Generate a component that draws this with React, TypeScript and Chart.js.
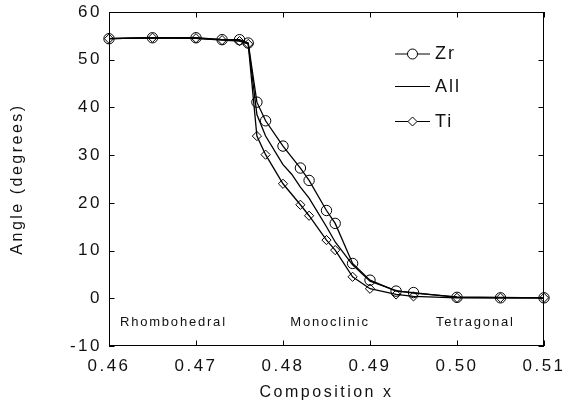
import React, { useEffect, useRef } from "react";
import { Chart, registerables } from "chart.js";

Chart.register(...registerables);

// ---- data ----
const compX = [0.46, 0.465, 0.47, 0.473, 0.475, 0.476, 0.477, 0.478, 0.48, 0.482, 0.483, 0.485, 0.486, 0.488, 0.49, 0.493, 0.495, 0.5, 0.505, 0.51];
const zrAngle = [54.4, 54.6, 54.6, 54.2, 54.2, 53.5, 41.1, 37.2, 31.9, 27.3, 24.7, 18.4, 15.7, 7.3, 3.8, 1.5, 1.2, 0.2, 0.1, 0.1];
const tiAngle = [54.4, 54.6, 54.5, 54.1, 53.9, 53.3, 34.0, 30.1, 24.0, 19.6, 17.3, 12.2, 10.1, 4.5, 2.0, 0.8, 0.4, 0.1, 0.1, 0.1];
const allX = [0.46, 0.465, 0.47, 0.473, 0.475, 0.476, 0.477, 0.478, 0.48, 0.481, 0.482, 0.483, 0.485, 0.486, 0.488, 0.49, 0.493, 0.495, 0.5, 0.505, 0.51];
const allAngle = [54.4, 54.6, 54.5, 54.2, 54.0, 53.4, 38.5, 34.0, 28.0, 26.0, 23.3, 21.0, 15.0, 11.8, 7.0, 3.6, 1.6, 1.1, 0.3, 0.2, 0.1];

const xTicks = [0.46, 0.47, 0.48, 0.49, 0.5, 0.51];
const yTicks = [-10, 0, 10, 20, 30, 40, 50, 60];

const phaseLabels = ["Rhombohedral", "Monoclinic", "Tetragonal"];
const phaseX = [0.4674, 0.4854, 0.5021];
const phaseY = -5;

const seriesNames = ["Zr", "All", "Ti"];

const FONT = "'Liberation Sans', Arial, Helvetica, sans-serif";
const INK = "#111";

const spacingPlugin = {
  id: "spacing",
  beforeLayout(chart: any) {
    chart.ctx.letterSpacing = "2.5px";
  },
  beforeDraw(chart: any) {
    chart.ctx.letterSpacing = "2.5px";
  },
};

const framePlugin = {
  id: "frame",
  beforeDatasetsDraw(chart: any) {
    const { ctx, chartArea: a, scales } = chart;
    const L = 5.5;
    ctx.save();
    ctx.strokeStyle = "#000";
    ctx.lineWidth = 1;
    ctx.strokeRect(a.left + 0.5, a.top + 0.5, a.right - a.left - 1, a.bottom - a.top - 1);
    ctx.beginPath();
    scales.x.ticks.forEach((t: any) => {
      const px = Math.round(scales.x.getPixelForValue(t.value)) + 0.5;
      ctx.moveTo(px, a.bottom);
      ctx.lineTo(px, a.bottom - L);
      ctx.moveTo(px, a.top);
      ctx.lineTo(px, a.top + L);
    });
    scales.y.ticks.forEach((t: any) => {
      const py = Math.round(scales.y.getPixelForValue(t.value)) + 0.5;
      ctx.moveTo(a.left, py);
      ctx.lineTo(a.left + L, py);
      ctx.moveTo(a.right, py);
      ctx.lineTo(a.right - L, py);
    });
    ctx.stroke();
    ctx.restore();
  },
};

const annotationPlugin = {
  id: "phases",
  afterDatasetsDraw(chart: any) {
    const { ctx, scales } = chart;
    ctx.save();
    ctx.letterSpacing = "1.8px";
    ctx.font = `13px ${FONT}`;
    ctx.fillStyle = INK;
    ctx.textAlign = "center";
    ctx.textBaseline = "middle";
    phaseLabels.forEach((s, i) => {
      ctx.fillText(s, scales.x.getPixelForValue(phaseX[i]), scales.y.getPixelForValue(phaseY));
    });
    ctx.restore();
  },
};

function drawMarker(ctx: CanvasRenderingContext2D, style: string, x: number, y: number, r: number) {
  ctx.beginPath();
  if (style === "circle") {
    ctx.arc(x, y, r, 0, Math.PI * 2);
  } else if (style === "rectRot") {
    ctx.moveTo(x, y - r);
    ctx.lineTo(x + r, y);
    ctx.lineTo(x, y + r);
    ctx.lineTo(x - r, y);
    ctx.closePath();
  } else {
    return;
  }
  ctx.fillStyle = "#fff";
  ctx.fill();
  ctx.stroke();
}

const legendPlugin = {
  id: "customLegend",
  afterDraw(chart: any) {
    const { ctx, chartArea: a } = chart;
    const rows = [41.5, 74, 109];
    ctx.save();
    ctx.letterSpacing = "2px";
    ctx.font = `18px ${FONT}`;
    ctx.textBaseline = "middle";
    ctx.textAlign = "left";
    chart.data.datasets.forEach((ds: any, i: number) => {
      const y = a.top + rows[i];
      const x0 = a.right - 149;
      const x1 = a.right - 114;
      ctx.strokeStyle = "#000";
      ctx.lineWidth = 1;
      ctx.beginPath();
      ctx.moveTo(x0, y + 0.5);
      ctx.lineTo(x1, y + 0.5);
      ctx.stroke();
      drawMarker(ctx, ds.pointStyle, (x0 + x1) / 2, y + 0.5, ds.pointStyle === "circle" ? 5 : 4.5);
      ctx.fillStyle = INK;
      ctx.fillText(ds.label, a.right - 109, y + 1);
    });
    ctx.restore();
  },
};

export default function App() {
  const ref = useRef<HTMLCanvasElement | null>(null);

  useEffect(() => {
    document.body.style.margin = "0";
    const canvas = ref.current;
    if (!canvas) return;

    const zrData = compX.map((x, i) => ({ x, y: zrAngle[i] }));
    const tiData = compX.map((x, i) => ({ x, y: tiAngle[i] }));
    const allData = allX.map((x, i) => ({ x, y: allAngle[i] }));

    const chart = new Chart(canvas, {
      type: "scatter",
      data: {
        datasets: [
          {
            label: seriesNames[0],
            data: zrData,
            showLine: true,
            borderColor: "#000",
            borderWidth: 1.3,
            pointStyle: "circle",
            pointRadius: 5.2,
            pointBorderWidth: 1,
            pointBorderColor: "#000",
            pointBackgroundColor: "rgba(255,255,255,0)",
            clip: false,
          } as any,
          {
            label: seriesNames[1],
            data: allData,
            showLine: true,
            borderColor: "#000",
            borderWidth: 1.3,
            pointStyle: false,
            pointRadius: 0,
            clip: false,
          } as any,
          {
            label: seriesNames[2],
            data: tiData,
            showLine: true,
            borderColor: "#000",
            borderWidth: 1.3,
            pointStyle: "rectRot",
            pointRadius: 4.6,
            pointBorderWidth: 1,
            pointBorderColor: "#000",
            pointBackgroundColor: "rgba(255,255,255,0)",
            clip: false,
          } as any,
        ],
      },
      options: {
        responsive: false,
        animation: false,
        devicePixelRatio: 1,
        layout: { padding: { left: 0, right: 20, top: 12, bottom: 0 } },
        plugins: {
          legend: { display: false },
          tooltip: { enabled: false },
        },
        scales: {
          x: {
            type: "linear",
            min: 0.46,
            max: 0.51,
            grid: { display: false, drawTicks: false },
            border: { display: false },
            afterBuildTicks: (s: any) => {
              s.ticks = xTicks.map((v) => ({ value: v }));
            },
            afterFit: (s: any) => {
              s.height = 64;
              s.paddingLeft = 0;
              s.paddingRight = 0;
            },
            ticks: {
              padding: 10,
              color: INK,
              font: { family: FONT, size: 17 },
              maxRotation: 0,
              autoSkip: false,
              callback: (v: any) => Number(v).toFixed(2),
            },
            title: {
              display: true,
              text: "Composition x",
              color: INK,
              font: { family: FONT, size: 16 },
              padding: { top: 0, bottom: 8 },
            },
          },
          y: {
            type: "linear",
            min: -10,
            max: 60,
            grid: { display: false, drawTicks: false },
            border: { display: false },
            afterBuildTicks: (s: any) => {
              s.ticks = yTicks.map((v) => ({ value: v }));
            },
            afterFit: (s: any) => {
              s.width = 109;
              s.paddingTop = 0;
              s.paddingBottom = 0;
            },
            ticks: {
              padding: 7,
              color: INK,
              font: { family: FONT, size: 17 },
              autoSkip: false,
              callback: (v: any) => String(v),
            },
            title: {
              display: true,
              text: "Angle (degrees)",
              color: INK,
              font: { family: FONT, size: 16 },
              padding: { top: 8, bottom: 0 },
            },
          },
        },
      },
      plugins: [spacingPlugin, framePlugin, annotationPlugin, legendPlugin],
    });

    return () => chart.destroy();
  }, []);

  return (
    <div style={{ width: 564, height: 410, position: "relative" }}>
      <canvas ref={ref} width={564} height={410} style={{ display: "block" }} />
    </div>
  );
}
